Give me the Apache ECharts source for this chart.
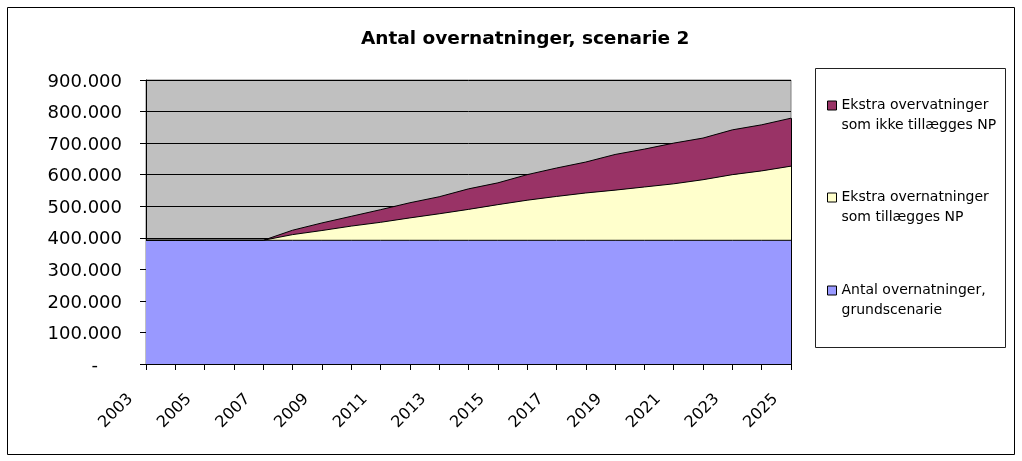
<!DOCTYPE html>
<html>
<head>
<meta charset="utf-8">
<script src="https://cdn.jsdelivr.net/npm/echarts@6/dist/echarts.min.js"></script>
<style>
html,body{margin:0;padding:0;background:#fff;}
#chart{width:1022px;height:461px;}
</style>
</head>
<body>
<div id="chart"></div>
<script>
var years = ['2003','2004','2005','2006','2007','2008','2009','2010','2011','2012','2013','2014','2015','2016','2017','2018','2019','2020','2021','2022','2023','2024','2025'];
var baseValues = [392000,392000,392000,392000,392000,392000,392000,392000,392000,392000,392000,392000,392000,392000,392000,392000,392000,392000,392000,392000,392000,392000,392000];
var extraNPValues = [0,0,0,0,0,18000,31000,45000,57000,71000,84000,98000,113000,127000,139000,150000,159000,169000,179000,192000,208000,220000,235000];
var extraNotNPValues = [0,0,0,0,0,14000,24000,31000,40000,48000,54000,65000,69000,81000,90000,98000,113000,120000,129000,132000,142000,146000,152000];
var seriesNames = ['Antal overnatninger,\ngrundscenarie','Ekstra overnatninger\nsom tillægges NP','Ekstra overvatninger\nsom ikke tillægges NP'];
var yTicks = {min:0, max:900000, interval:100000};
var titleText = 'Antal overnatninger, scenarie 2';

var FONT = 'DejaVu Sans';
var lastIdx = years.length - 1;
var lastTotal = baseValues[lastIdx] + extraNPValues[lastIdx] + extraNotNPValues[lastIdx];
function fmt(v){
  if (v === 0) return '{d|-}';
  return '{n|' + String(v).replace(/\B(?=(\d{3})+(?!\d))/g, '.') + '}';
}
function legendFor(name, top){
  return {
    data:[name], left:827, top:top, orient:'vertical', selectedMode:false, padding:0,
    icon:'rect', itemWidth:9, itemHeight:9,
    itemStyle:{borderColor:'#000', borderWidth:1},
    formatter:function(n){ return '{s| }\n{a|' + n.split('\n').join('}\n{a|') + '}'; },
    textStyle:{fontFamily:FONT, fontSize:14, color:'#000', lineHeight:20,
      rich:{s:{fontFamily:FONT, fontSize:14, lineHeight:20}, a:{fontFamily:FONT, fontSize:14, color:'#000', lineHeight:20}}}
  };
}
var chart = echarts.init(document.getElementById('chart'), null, {renderer:'canvas'});
var lineStyle = {color:'#000', width:1};
chart.setOption({
  animation:false,
  backgroundColor:'#fff',
  title:{text:titleText, left:361, top:30, textStyle:{fontFamily:FONT, fontSize:18.5, fontWeight:'bold', color:'#000'}, padding:0},
  graphic:[
    {type:'rect', shape:{x:7.5, y:7.5, width:1007, height:447}, style:{fill:'none', stroke:'#000', lineWidth:1}, silent:true, z:-1},
    {type:'rect', shape:{x:815.5, y:68.5, width:190, height:279}, style:{fill:'#fff', stroke:'#222', lineWidth:1}, silent:true, z:-1}
  ],
  legend:[legendFor(seriesNames[2], 75.5), legendFor(seriesNames[1], 167.5), legendFor(seriesNames[0], 260.5)],
  grid:{left:146, right:231, top:80, bottom:97, show:true, backgroundColor:'#C0C0C0', borderColor:'#808080', borderWidth:1},
  xAxis:{
    type:'category', data:years, boundaryGap:false,
    axisLine:{lineStyle:{color:'#000', width:1}},
    axisTick:{show:true, interval:0, length:6, lineStyle:{color:'#000'}},
    axisLabel:{interval:1, rotate:45, margin:17, padding:[0,22,0,0], fontFamily:FONT, fontSize:16, color:'#000'},
    splitLine:{show:false}
  },
  yAxis:{
    type:'value', min:yTicks.min, max:yTicks.max, interval:yTicks.interval,
    axisLine:{show:true, lineStyle:{color:'#000', width:1}},
    axisTick:{show:true, length:6, lineStyle:{color:'#000'}},
    axisLabel:{margin:24, fontFamily:FONT, fontSize:18, color:'#000', formatter:fmt,
      rich:{
        n:{fontFamily:FONT, fontSize:18, color:'#000', padding:[4,0,0,0]},
        d:{fontFamily:FONT, fontSize:18, color:'#000', padding:[4,24,0,0]}
      }},
    splitLine:{show:true, lineStyle:{color:'#000', width:1}}
  },
  series:[
    {name:seriesNames[0], type:'line', stack:'t', data:baseValues, showSymbol:false, lineStyle:lineStyle, areaStyle:{color:'#9999FF', opacity:1}, itemStyle:{color:'#9999FF'}},
    {name:seriesNames[1], type:'line', stack:'t', data:extraNPValues, showSymbol:false, lineStyle:lineStyle, areaStyle:{color:'#FFFFCC', opacity:1}, itemStyle:{color:'#FFFFCC'}},
    {name:seriesNames[2], type:'line', stack:'t', data:extraNotNPValues, showSymbol:false, lineStyle:lineStyle, areaStyle:{color:'#993366', opacity:1}, itemStyle:{color:'#993366'},
      markLine:{silent:true, symbol:'none', label:{show:false}, lineStyle:{color:'#000', width:1, type:'solid'},
        data:[[{coord:[years[lastIdx], 0]}, {coord:[years[lastIdx], lastTotal]}]]}}
  ]
});
</script>
</body>
</html>
